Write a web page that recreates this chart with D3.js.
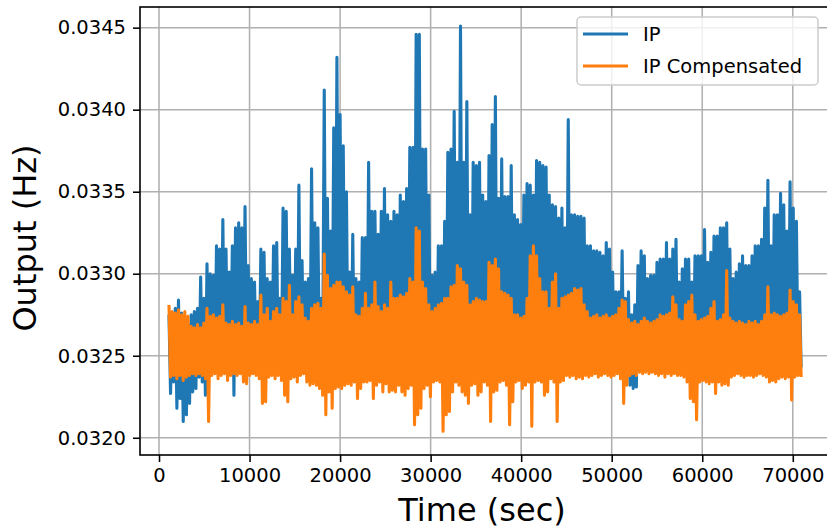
<!DOCTYPE html>
<html>
<head>
<meta charset="utf-8">
<script src="https://cdn.jsdelivr.net/npm/d3@7"></script>
<style>
  body { margin: 0; background: #fff; }
  text { font-family: "DejaVu Sans", sans-serif; fill: #000; }
</style>
</head>
<body>
<svg id="chart" width="827" height="531"></svg>
<script>
// Sampling clock of the record (seconds); each slot holds a high and a low reading.
const sampleStart = 1100;
const sampleStep = 350;

// IP output: per-slot high / low readings (Hz)
const ipHigh = [
  0.03275, 0.03276, 0.03279, 0.03284, 0.03276, 0.03271, 0.03269, 0.03275, 0.03277, 0.03279,
  0.03298, 0.03285, 0.03306, 0.03300, 0.03299, 0.03317, 0.03315, 0.03333, 0.03315, 0.03301,
  0.03317, 0.03328, 0.03331, 0.03328, 0.03341, 0.03305, 0.03297, 0.03295, 0.03283, 0.03315,
  0.03313, 0.03297, 0.03295, 0.03317, 0.03319, 0.03285, 0.03340, 0.03338, 0.03315, 0.03299,
  0.03315, 0.03354, 0.03308, 0.03295, 0.03297, 0.03364, 0.03331, 0.03328, 0.03285, 0.03412,
  0.03346, 0.03326, 0.03389, 0.03432, 0.03397, 0.03378, 0.03350, 0.03301, 0.03324, 0.03297,
  0.03295, 0.03322, 0.03322, 0.03368, 0.03338, 0.03338, 0.03324, 0.03338, 0.03352, 0.03336,
  0.03332, 0.03338, 0.03336, 0.03348, 0.03344, 0.03352, 0.03377, 0.03377, 0.03446, 0.03446,
  0.03376, 0.03376, 0.03348, 0.03299, 0.03301, 0.03317, 0.03317, 0.03332, 0.03374, 0.03376,
  0.03399, 0.03368, 0.03451, 0.03368, 0.03405, 0.03336, 0.03368, 0.03366, 0.03368, 0.03348,
  0.03344, 0.03372, 0.03391, 0.03408, 0.03346, 0.03370, 0.03347, 0.03347, 0.03366, 0.03336,
  0.03333, 0.03330, 0.03348, 0.03355, 0.03354, 0.03348, 0.03369, 0.03368, 0.03366, 0.03365,
  0.03348, 0.03342, 0.03341, 0.03334, 0.03340, 0.03328, 0.03394, 0.03336, 0.03336, 0.03335,
  0.03335, 0.03334, 0.03317, 0.03317, 0.03314, 0.03314, 0.03313, 0.03311, 0.03319, 0.03315,
  0.03301, 0.03289, 0.03289, 0.03314, 0.03285, 0.03289, 0.03275, 0.03281, 0.03305, 0.03314,
  0.03311, 0.03297, 0.03299, 0.03299, 0.03307, 0.03309, 0.03309, 0.03319, 0.03309, 0.03315,
  0.03321, 0.03295, 0.03303, 0.03309, 0.03309, 0.03295, 0.03311, 0.03311, 0.03311, 0.03327,
  0.03307, 0.03313, 0.03323, 0.03323, 0.03328, 0.03328, 0.03331, 0.03315, 0.03297, 0.03301,
  0.03306, 0.03311, 0.03305, 0.03305, 0.03311, 0.03317, 0.03317, 0.03321, 0.03340, 0.03357,
  0.03317, 0.03336, 0.03336, 0.03349, 0.03342, 0.03326, 0.03356, 0.03340, 0.03332, 0.03289
];
const ipLow = [
  0.03227, 0.03234, 0.03218, 0.03224, 0.03210, 0.03214, 0.03221, 0.03228, 0.03230, 0.03237,
  0.03234, 0.03226, 0.03242, 0.03243, 0.03241, 0.03243, 0.03242, 0.03244, 0.03241, 0.03243,
  0.03226, 0.03242, 0.03243, 0.03241, 0.03244, 0.03242, 0.03243, 0.03241, 0.03242, 0.03244,
  0.03242, 0.03243, 0.03241, 0.03244, 0.03242, 0.03243, 0.03241, 0.03242, 0.03244, 0.03243,
  0.03242, 0.03243, 0.03241, 0.03244, 0.03242, 0.03243, 0.03241, 0.03242, 0.03244, 0.03243,
  0.03242, 0.03243, 0.03241, 0.03244, 0.03242, 0.03243, 0.03241, 0.03242, 0.03244, 0.03243,
  0.03242, 0.03243, 0.03241, 0.03244, 0.03242, 0.03243, 0.03241, 0.03242, 0.03244, 0.03243,
  0.03242, 0.03243, 0.03241, 0.03244, 0.03242, 0.03243, 0.03241, 0.03242, 0.03244, 0.03243,
  0.03242, 0.03243, 0.03241, 0.03244, 0.03242, 0.03243, 0.03241, 0.03242, 0.03244, 0.03243,
  0.03242, 0.03243, 0.03241, 0.03244, 0.03242, 0.03243, 0.03241, 0.03242, 0.03244, 0.03243,
  0.03242, 0.03243, 0.03241, 0.03244, 0.03242, 0.03243, 0.03241, 0.03242, 0.03244, 0.03243,
  0.03242, 0.03243, 0.03241, 0.03244, 0.03242, 0.03243, 0.03241, 0.03242, 0.03244, 0.03243,
  0.03242, 0.03243, 0.03241, 0.03244, 0.03242, 0.03243, 0.03241, 0.03242, 0.03244, 0.03243,
  0.03242, 0.03243, 0.03241, 0.03244, 0.03242, 0.03243, 0.03241, 0.03242, 0.03244, 0.03243,
  0.03242, 0.03243, 0.03241, 0.03244, 0.03242, 0.03232, 0.03230, 0.03231, 0.03242, 0.03243,
  0.03242, 0.03243, 0.03241, 0.03244, 0.03242, 0.03243, 0.03241, 0.03242, 0.03244, 0.03243,
  0.03242, 0.03243, 0.03241, 0.03244, 0.03242, 0.03243, 0.03241, 0.03242, 0.03244, 0.03243,
  0.03242, 0.03243, 0.03241, 0.03244, 0.03242, 0.03243, 0.03241, 0.03242, 0.03244, 0.03243,
  0.03242, 0.03243, 0.03241, 0.03244, 0.03242, 0.03243, 0.03241, 0.03242, 0.03244, 0.03243,
  0.03242, 0.03243, 0.03241, 0.03244, 0.03242, 0.03243, 0.03241, 0.03242, 0.03244, 0.03243
];

// IP Compensated output: per-slot high / low readings (Hz)
const compHigh = [
  0.03281, 0.03277, 0.03276, 0.03278, 0.03275, 0.03277, 0.03274, 0.03268, 0.03267, 0.03269,
  0.03267, 0.03270, 0.03279, 0.03274, 0.03275, 0.03273, 0.03274, 0.03281, 0.03270, 0.03269,
  0.03271, 0.03269, 0.03270, 0.03268, 0.03280, 0.03270, 0.03269, 0.03271, 0.03269, 0.03287,
  0.03275, 0.03279, 0.03271, 0.03277, 0.03279, 0.03275, 0.03285, 0.03283, 0.03293, 0.03275,
  0.03283, 0.03286, 0.03281, 0.03273, 0.03271, 0.03279, 0.03281, 0.03282, 0.03279, 0.03312,
  0.03299, 0.03291, 0.03293, 0.03295, 0.03295, 0.03292, 0.03289, 0.03287, 0.03292, 0.03275,
  0.03274, 0.03279, 0.03288, 0.03279, 0.03281, 0.03295, 0.03280, 0.03277, 0.03281, 0.03279,
  0.03295, 0.03285, 0.03285, 0.03287, 0.03286, 0.03288, 0.03297, 0.03295, 0.03328, 0.03326,
  0.03295, 0.03291, 0.03281, 0.03277, 0.03279, 0.03281, 0.03282, 0.03285, 0.03285, 0.03292,
  0.03293, 0.03305, 0.03303, 0.03295, 0.03293, 0.03281, 0.03283, 0.03285, 0.03284, 0.03283,
  0.03283, 0.03307, 0.03305, 0.03309, 0.03303, 0.03289, 0.03288, 0.03287, 0.03285, 0.03275,
  0.03275, 0.03273, 0.03274, 0.03285, 0.03311, 0.03317, 0.03311, 0.03297, 0.03289, 0.03289,
  0.03279, 0.03295, 0.03300, 0.03279, 0.03285, 0.03286, 0.03287, 0.03288, 0.03291, 0.03290,
  0.03291, 0.03281, 0.03277, 0.03273, 0.03274, 0.03275, 0.03273, 0.03274, 0.03275, 0.03273,
  0.03274, 0.03275, 0.03279, 0.03284, 0.03283, 0.03272, 0.03270, 0.03271, 0.03269, 0.03271,
  0.03273, 0.03271, 0.03270, 0.03271, 0.03272, 0.03275, 0.03274, 0.03275, 0.03276, 0.03286,
  0.03281, 0.03272, 0.03271, 0.03281, 0.03283, 0.03287, 0.03275, 0.03271, 0.03272, 0.03273,
  0.03274, 0.03279, 0.03283, 0.03271, 0.03272, 0.03275, 0.03302, 0.03273, 0.03271, 0.03270,
  0.03271, 0.03270, 0.03269, 0.03271, 0.03270, 0.03271, 0.03269, 0.03271, 0.03275, 0.03292,
  0.03275, 0.03276, 0.03275, 0.03274, 0.03275, 0.03276, 0.03290, 0.03283, 0.03281, 0.03275
];
const compLow = [
  0.03237, 0.03238, 0.03236, 0.03238, 0.03235, 0.03237, 0.03238, 0.03239, 0.03238, 0.03239,
  0.03238, 0.03236, 0.03210, 0.03238, 0.03239, 0.03236, 0.03238, 0.03239, 0.03235, 0.03238,
  0.03239, 0.03238, 0.03239, 0.03234, 0.03233, 0.03238, 0.03239, 0.03238, 0.03236, 0.03221,
  0.03222, 0.03237, 0.03238, 0.03236, 0.03238, 0.03235, 0.03226, 0.03222, 0.03236, 0.03237,
  0.03234, 0.03238, 0.03239, 0.03234, 0.03232, 0.03233, 0.03232, 0.03230, 0.03226, 0.03214,
  0.03228, 0.03218, 0.03230, 0.03231, 0.03230, 0.03232, 0.03233, 0.03232, 0.03234, 0.03224,
  0.03230, 0.03234, 0.03234, 0.03235, 0.03224, 0.03232, 0.03234, 0.03228, 0.03233, 0.03228,
  0.03229, 0.03228, 0.03232, 0.03228, 0.03226, 0.03230, 0.03232, 0.03208, 0.03214, 0.03218,
  0.03230, 0.03232, 0.03225, 0.03234, 0.03235, 0.03234, 0.03204, 0.03214, 0.03216, 0.03228,
  0.03234, 0.03232, 0.03228, 0.03226, 0.03221, 0.03232, 0.03233, 0.03226, 0.03228, 0.03234,
  0.03232, 0.03210, 0.03228, 0.03229, 0.03234, 0.03235, 0.03232, 0.03208, 0.03222, 0.03234,
  0.03235, 0.03230, 0.03232, 0.03234, 0.03207, 0.03234, 0.03235, 0.03234, 0.03226, 0.03228,
  0.03236, 0.03234, 0.03210, 0.03234, 0.03235, 0.03238, 0.03237, 0.03238, 0.03236, 0.03237,
  0.03236, 0.03238, 0.03237, 0.03238, 0.03239, 0.03237, 0.03238, 0.03239, 0.03238, 0.03237,
  0.03238, 0.03239, 0.03236, 0.03221, 0.03232, 0.03238, 0.03239, 0.03238, 0.03240, 0.03239,
  0.03240, 0.03239, 0.03240, 0.03239, 0.03238, 0.03239, 0.03237, 0.03239, 0.03238, 0.03239,
  0.03238, 0.03238, 0.03237, 0.03234, 0.03224, 0.03222, 0.03211, 0.03234, 0.03235, 0.03234,
  0.03233, 0.03234, 0.03227, 0.03234, 0.03232, 0.03233, 0.03232, 0.03237, 0.03238, 0.03239,
  0.03238, 0.03237, 0.03238, 0.03238, 0.03237, 0.03238, 0.03239, 0.03238, 0.03237, 0.03234,
  0.03235, 0.03234, 0.03236, 0.03237, 0.03236, 0.03237, 0.03223, 0.03237, 0.03238, 0.03237
];

const seriesNames = ["IP", "IP Compensated"];
const xTicks = [0, 10000, 20000, 30000, 40000, 50000, 60000, 70000];
const yTicks = [0.0320, 0.0325, 0.0330, 0.0335, 0.0340, 0.0345];

// ---- layout ----
const W = 827, H = 531;
const plot = { left: 140, right: 829, top: 7, bottom: 455 };
const colors = ["#1f77b4", "#ff7f0e"];
const lineWidth = 3.1;

const svg = d3.select("#chart");
svg.append("rect").attr("width", W).attr("height", H).attr("fill", "#fff");

const x = d3.scaleLinear().domain([-2100, 74000]).range([plot.left, plot.right]);
const y = d3.scaleLinear().domain([0.031895, 0.034626]).range([plot.bottom, plot.top]);

// sample time of each slot; the low reading sits half a slot later
const times = ipHigh.map((_, i) => sampleStart + i * sampleStep);
function slotPoints(high, low) {
  const pts = [];
  high.forEach((h, i) => {
    pts.push([times[i], h]);
    pts.push([times[i] + sampleStep / 2, low[i]]);
  });
  return pts;
}

svg.append("defs").append("clipPath").attr("id", "plotClip")
  .append("rect")
  .attr("x", plot.left).attr("y", plot.top)
  .attr("width", plot.right - plot.left).attr("height", plot.bottom - plot.top);

// grid
const grid = svg.append("g");
grid.selectAll("line.gx").data(xTicks).join("line")
  .attr("x1", d => x(d)).attr("x2", d => x(d))
  .attr("y1", plot.top).attr("y2", plot.bottom)
  .attr("stroke", "#b0b0b0").attr("stroke-width", 1.55);
grid.selectAll("line.gy").data(yTicks).join("line")
  .attr("y1", d => y(d)).attr("y2", d => y(d))
  .attr("x1", plot.left).attr("x2", plot.right)
  .attr("stroke", "#b0b0b0").attr("stroke-width", 1.55);

// series
const line = d3.line().x(d => x(d[0])).y(d => y(d[1]));
const lines = svg.append("g").attr("clip-path", "url(#plotClip)");
[[ipHigh, ipLow], [compHigh, compLow]].forEach(([hi, lo], k) => {
  lines.append("path")
    .attr("d", line(slotPoints(hi, lo)))
    .attr("fill", "none")
    .attr("stroke", colors[k])
    .attr("stroke-width", lineWidth)
    .attr("stroke-linejoin", "round");
});

// axes
const xAxis = d3.axisBottom(x).tickValues(xTicks).tickFormat(d3.format("d"))
  .tickSize(7).tickPadding(6);
const yAxis = d3.axisLeft(y).tickValues(yTicks).tickFormat(d3.format(".4f"))
  .tickSize(7).tickPadding(7);

const gx = svg.append("g").attr("transform", `translate(0,${plot.bottom})`).call(xAxis);
const gy = svg.append("g").attr("transform", `translate(${plot.left},0)`).call(yAxis);
[gx, gy].forEach(g => {
  g.select(".domain").remove();
  g.selectAll(".tick line").attr("stroke", "#000").attr("stroke-width", 1.55);
  g.selectAll(".tick text").attr("font-size", 19.5).attr("fill", "#000")
    .style("font-family", "DejaVu Sans, sans-serif");
});

// spines
svg.append("rect")
  .attr("x", plot.left).attr("y", plot.top)
  .attr("width", plot.right - plot.left).attr("height", plot.bottom - plot.top)
  .attr("fill", "none").attr("stroke", "#000").attr("stroke-width", 1.6);

// axis labels
svg.append("text")
  .attr("x", 482).attr("y", 521)
  .attr("text-anchor", "middle").attr("font-size", 32)
  .text("Time (sec)");
svg.append("text")
  .attr("transform", "translate(36,238) rotate(-90)")
  .attr("text-anchor", "middle").attr("font-size", 32)
  .text("Output (Hz)");

// legend
const legend = svg.append("g");
legend.append("rect")
  .attr("x", 577).attr("y", 17).attr("width", 241).attr("height", 68)
  .attr("rx", 4).attr("ry", 4)
  .attr("fill", "#fff").attr("fill-opacity", 0.8)
  .attr("stroke", "#cccccc").attr("stroke-width", 1.5);
seriesNames.forEach((name, k) => {
  const cy = 34 + k * 32;
  legend.append("line")
    .attr("x1", 583).attr("x2", 628).attr("y1", cy).attr("y2", cy)
    .attr("stroke", colors[k]).attr("stroke-width", lineWidth);
  legend.append("text")
    .attr("x", 643).attr("y", cy + 7)
    .attr("font-size", 19.5)
    .text(name);
});
</script>
</body>
</html>
